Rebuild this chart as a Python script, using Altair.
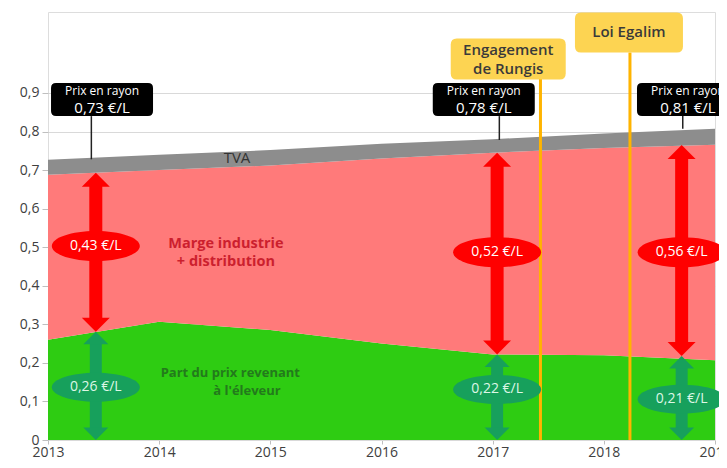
import altair as alt
import pandas as pd

# ---- data ----
years = [2013, 2014, 2015, 2016, 2017, 2018, 2019]
eleveur = [0.26, 0.307, 0.285, 0.25, 0.222, 0.22, 0.207]
marge = [0.428, 0.393, 0.427, 0.48, 0.523, 0.537, 0.559]
tva = [0.039, 0.04, 0.04, 0.038, 0.035, 0.038, 0.041]

arrow_x = [2013.43, 2017.04, 2018.70]
arrow_top = [0.693, 0.745, 0.765]
arrow_mid = [0.281, 0.222, 0.218]
marge_labels = ["0,43 €/L", "0,52 €/L", "0,56 €/L"]
marge_label_y = [0.503, 0.487, 0.487]
eleveur_labels = ["0,26 €/L", "0,22 €/L", "0,21 €/L"]
eleveur_label_y = [0.137, 0.131, 0.106]

prix_labels = ["0,73 €/L", "0,78 €/L", "0,81 €/L"]
prix_box_x = [2013.486, 2016.92, 2018.757]
prix_box_y = [0.883, 0.883, 0.883]
prix_line_x = [2013.39, 2017.06, 2018.71]
prix_line_from = [0.728, 0.778, 0.807]
prix_line_to = [0.84, 0.84, 0.84]

event_labels = ["Engagement\nde Rungis", "Loi Egalim"]
event_line_x = [2017.43, 2018.235]
event_line_top = [0.936, 1.005]
event_box_x = [2017.14, 2018.226]
event_box_y = [0.988, 1.057]

area_text = ["TVA", "Marge industrie", "+ distribution", "Part du prix revenant", "à l'éleveur"]
area_text_x = [2014.70, 2014.60, 2014.60, 2014.64, 2014.79]
area_text_y = [0.732, 0.508, 0.461, 0.173, 0.126]
area_text_group = ["tva", "marge", "marge", "eleveur", "eleveur"]

y_ticks = [0, 0.1, 0.2, 0.3, 0.4, 0.5, 0.6, 0.7, 0.8, 0.9]

# ---- tables ----
df = pd.DataFrame({"year": years, "eleveur": eleveur, "marge": marge, "tva": tva})
df["base"] = 0.0
df["top_green"] = df["eleveur"]
df["top_red"] = df["eleveur"] + df["marge"]
df["top_gray"] = df["top_red"] + df["tva"]

arrows = pd.DataFrame({"x": arrow_x, "top": arrow_top, "mid": arrow_mid, "zero": [0.0] * 3})
mlab = pd.DataFrame({"x": arrow_x, "y": marge_label_y, "t": marge_labels})
elab = pd.DataFrame({"x": arrow_x, "y": eleveur_label_y, "t": eleveur_labels})
prix = pd.DataFrame({"bx": prix_box_x, "by": prix_box_y, "t": prix_labels,
                     "lx": prix_line_x, "l1": prix_line_from, "l2": prix_line_to})
events = pd.DataFrame({"t": event_labels, "lx": event_line_x, "ltop": event_line_top,
                       "bx": event_box_x, "by": event_box_y, "zero": [0.0, 0.0]})
atext = pd.DataFrame({"x": area_text_x, "y": area_text_y, "t": area_text, "g": area_text_group})

FONT = "Open Sans"
xs = alt.Scale(domain=[2013, 2019], nice=False, zero=False)
ys = alt.Scale(domain=[0, 1.110], nice=False, zero=True)

X = lambda f: alt.X(f, type="quantitative", scale=xs, title=None,
                    axis=alt.Axis(values=years, format="d", grid=False, tickColor="#bfbfbf",
                                  tickSize=4, domainColor="#d9d9d9", labelFontSize=14,
                                  labelColor="#404040", labelFont=FONT, labelPadding=1,
                                  labelFlush=False, labelOverlap=False))
Y = lambda f: alt.Y(f, type="quantitative", scale=ys, title=None,
                    axis=alt.Axis(values=y_ticks, grid=True, gridColor="#d9d9d9", domain=False,
                                  tickColor="#bfbfbf", tickSize=6, labelFontSize=14,
                                  labelColor="#404040", labelFont=FONT, labelPadding=3,
                                  labelExpr="datum.value == 0 ? '0' : replace(format(datum.value, '.1f'), '.', ',')"))


def rrect(w, h, rad):
    r = w / 2.0
    a = 1.0
    b = (h / 2.0) / r
    c = rad / r
    return (f"M{-a + c},{-b}L{a - c},{-b}Q{a},{-b},{a},{-b + c}L{a},{b - c}Q{a},{b},{a - c},{b}"
            f"L{-a + c},{b}Q{-a},{b},{-a},{b - c}L{-a},{-b + c}Q{-a},{-b},{-a + c},{-b}Z"), w * w


def ellipse(w, h):
    k = h / w
    kk = 0.5523
    p = (f"M-1,0C-1,{-k*kk},{-kk},{-k},0,{-k}C{kk},{-k},1,{-k*kk},1,0"
         f"C1,{k*kk},{kk},{k},0,{k}C{-kk},{k},-1,{k*kk},-1,0Z")
    return p, w * w


UP = "M0,0L1,1L-1,1Z"
DOWN = "M0,0L1,-1L-1,-1Z"

base = alt.Chart(df)
green = base.mark_area(color="#2ECC12", opacity=1).encode(x=X("year"), y=Y("base"), y2="top_green")
red = base.mark_area(color="#FF7A7A", opacity=1).encode(x=X("year"), y=Y("top_green"), y2="top_red")
gray = base.mark_area(color="#8D8D8D", opacity=1).encode(x=X("year"), y=Y("top_red"), y2="top_gray")

ev = alt.Chart(events)
ev_lines = ev.mark_rule(color="#FFB400", strokeWidth=3).encode(x=X("lx"), y=Y("zero"), y2="ltop")

ar = alt.Chart(arrows)
RED = "#FF0000"
GRN = "#17A05C"
red_shaft = ar.mark_rule(color=RED, strokeWidth=13, yOffset=13, y2Offset=-13).encode(x=X("x"), y=Y("top"), y2="mid")
red_up = ar.mark_point(shape=UP, size=784, filled=True, color=RED, opacity=1).encode(x=X("x"), y=Y("top"))
red_dn = ar.mark_point(shape=DOWN, size=784, filled=True, color=RED, opacity=1).encode(x=X("x"), y=Y("mid"))
grn_shaft = ar.mark_rule(color=GRN, strokeWidth=12, yOffset=12, y2Offset=-12).encode(x=X("x"), y=Y("mid"), y2="zero")
grn_up = ar.mark_point(shape=UP, size=625, filled=True, color=GRN, opacity=1).encode(x=X("x"), y=Y("mid"))
grn_dn = ar.mark_point(shape=DOWN, size=625, filled=True, color=GRN, opacity=1).encode(x=X("x"), y=Y("zero"))

ep, es = ellipse(88, 30)
red_ell = alt.Chart(mlab).mark_point(shape=ep, size=es, filled=True, color=RED, opacity=1).encode(x=X("x"), y=Y("y"))
red_ell_t = alt.Chart(mlab).mark_text(font=FONT, fontSize=14, color="white").encode(x=X("x"), y=Y("y"), text="t")
ep2, es2 = ellipse(88, 29)
grn_ell = alt.Chart(elab).mark_point(shape=ep2, size=es2, filled=True, color=GRN, opacity=1).encode(x=X("x"), y=Y("y"))
grn_ell_t = alt.Chart(elab).mark_text(font=FONT, fontSize=14, color="#DDF7E6").encode(x=X("x"), y=Y("y"), text="t")

at = alt.Chart(atext)
tva_t = at.transform_filter("datum.g == 'tva'").mark_text(font=FONT, fontSize=15, color="#333333").encode(x=X("x"), y=Y("y"), text="t")
marge_t = at.transform_filter("datum.g == 'marge'").mark_text(font=FONT, fontSize=14.5, fontWeight="bold", color="#CC1F2E").encode(x=X("x"), y=Y("y"), text="t")
elev_t = at.transform_filter("datum.g == 'eleveur'").mark_text(font=FONT, fontSize=13, fontWeight="bold", color="#237A1C").encode(x=X("x"), y=Y("y"), text="t")

pr = alt.Chart(prix)
pr_line = pr.mark_rule(color="#222222", strokeWidth=1.5).encode(x=X("lx"), y=Y("l1"), y2="l2")
bp, bs = rrect(102, 33, 5)
pr_box = pr.mark_point(shape=bp, size=bs, filled=True, color="#000000", opacity=1).encode(x=X("bx"), y=Y("by"))
pr_t1 = pr.mark_text(font=FONT, fontSize=12, color="white", dy=-9).encode(x=X("bx"), y=Y("by"), text=alt.value("Prix en rayon"))
pr_t2 = pr.mark_text(font=FONT, fontSize=15, color="white", dy=8.5).encode(x=X("bx"), y=Y("by"), text="t")

yp1, ys1 = rrect(115, 41, 6)
yp2, ys2 = rrect(108, 40, 6)
ev_box1 = ev.transform_filter("datum.t != 'Loi Egalim'").mark_point(shape=yp1, size=ys1, filled=True, color="#FDD452", opacity=1).encode(x=X("bx"), y=Y("by"))
ev_box2 = ev.transform_filter("datum.t == 'Loi Egalim'").mark_point(shape=yp2, size=ys2, filled=True, color="#FDD452", opacity=1).encode(x=X("bx"), y=Y("by"))
ev_t1 = ev.transform_filter("datum.t != 'Loi Egalim'").mark_text(
    font=FONT, fontSize=15, fontWeight=600, color="#3A3A3A", lineBreak="\n", lineHeight=19,
    baseline="middle", dy=-9.5).encode(x=X("bx"), y=Y("by"), text="t")
ev_t2 = ev.transform_filter("datum.t == 'Loi Egalim'").mark_text(
    font=FONT, fontSize=15, fontWeight=600, color="#3A3A3A", baseline="middle").encode(x=X("bx"), y=Y("by"), text="t")

chart = alt.layer(
    green, red, gray, ev_lines,
    red_shaft, red_up, red_dn, grn_shaft, grn_up, grn_dn,
    red_ell, red_ell_t, grn_ell, grn_ell_t,
    tva_t, marge_t, elev_t,
    pr_line, pr_box, pr_t1, pr_t2,
    ev_box1, ev_box2, ev_t1, ev_t2,
).properties(
    width=667, height=428,
    autosize=alt.AutoSizeParams(type="none"),
    padding={"left": 40, "top": 4, "right": 4, "bottom": 20},
).configure_view(stroke=None).configure(background="white")

chart.save("out.html", embed_options={"renderer": "svg", "actions": False})
